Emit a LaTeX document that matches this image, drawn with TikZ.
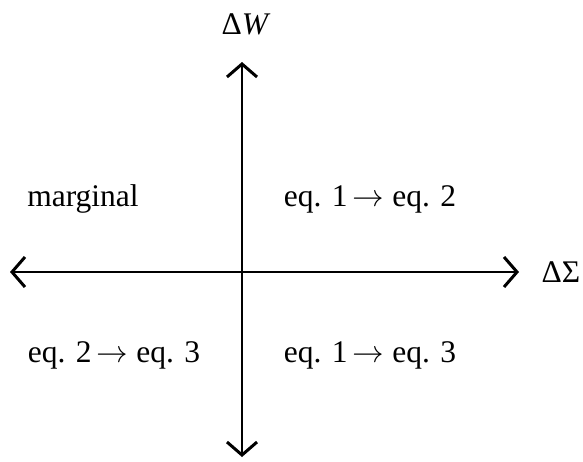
\documentclass[tikz,border=0pt]{standalone}
\usepackage{fontspec}
\setmainfont{Liberation Serif}
\usepackage{unicode-math}
\setmathfont{Latin Modern Math}
\usetikzlibrary{positioning,arrows.meta,calc}
\newcommand{\figbody}{\fontsize{31.5}{36}\selectfont}
\tikzset{
  qdAxis/.style={{Straight Barb[length=13pt,width=30pt,line width=3pt]}-{Straight Barb[length=13pt,width=30pt,line width=3pt]},
    line width=2.6pt, draw=black},
  qdLabel/.style={font=\figbody, text=black, inner sep=0pt, anchor=base},
  qdAxisLabel/.style={font=\figbody, text=black, inner sep=0pt}
}
\begin{document}
\begin{tikzpicture}[x=1pt,y=-1pt]
\useasboundingbox (0,0) rectangle (583,461);
\coordinate (west) at (10,272);
\coordinate (east) at (519,272);
\coordinate (north) at (242,62);
\coordinate (south) at (242,457);
\draw[qdAxis] (west) -- (east);
\draw[qdAxis] (north) -- (south);
\node[qdAxisLabel] (dW) at (246,24) {Δ\textit{W}};
\node[qdAxisLabel] (dS) at (561,272) {ΔΣ};
\node[qdLabel] (marg) at (83,206) {marginal};
\node[qdLabel] (ne) at (370,206) {eq. 1\,$\rightarrow$ eq. 2};
\node[qdLabel] (sw) at (114,362) {eq. 2\,$\rightarrow$ eq. 3};
\node[qdLabel] (se) at (370,362) {eq. 1\,$\rightarrow$ eq. 3};
\end{tikzpicture}
\end{document}
